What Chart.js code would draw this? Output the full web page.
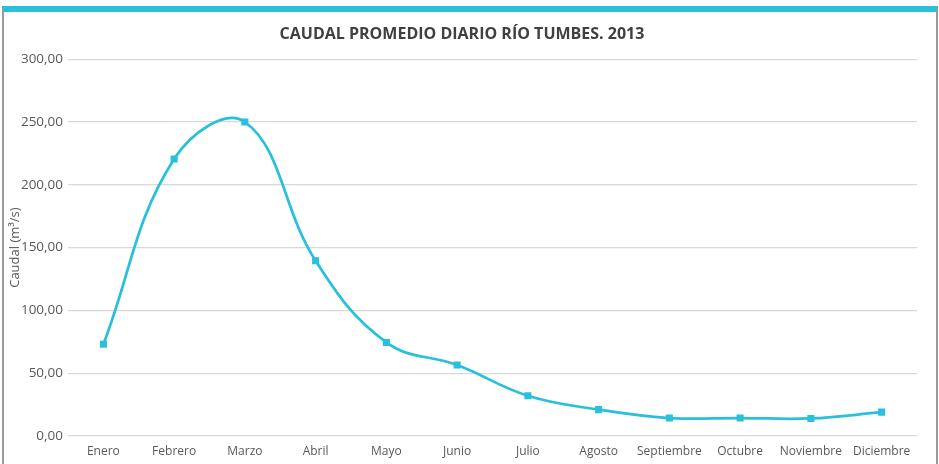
<!DOCTYPE html>
<html>
<head>
<meta charset="utf-8">
<script src="https://cdn.jsdelivr.net/npm/chart.js@4"></script>
<style>
  html, body { margin: 0; padding: 0; background: #fff; overflow: hidden; }
  #frame {
    position: absolute; left: 2px; top: 6px; width: 932px; height: 452px;
    border-top: 6px solid #29C0DC; border-left: 2px solid #9a9a9a; border-right: 2px solid #9a9a9a;
  }
  #wrap { position: absolute; left: 0; top: 0; width: 939px; height: 464px; }
</style>
</head>
<body>
<div id="frame"></div>
<div id="wrap"><canvas id="caudalChart"></canvas></div>
<script>
const months = ['Enero', 'Febrero', 'Marzo', 'Abril', 'Mayo', 'Junio', 'Julio',
    'Agosto', 'Septiembre', 'Octubre', 'Noviembre', 'Diciembre'];
const caudal = [73, 220.5, 250, 139.5, 74.5, 56.5, 32, 21, 14.3, 14.3, 14, 19];
const chartTitle = 'CAUDAL PROMEDIO DIARIO RÍO TUMBES. 2013';
const yTitle = 'Caudal (m³/s)';

const cyan = '#29C0DC';
const textGray = '#595959';

const chartElement = document.getElementById('caudalChart');
const caudalChart = new Chart(chartElement, {
    type: 'line',
    data: {
        labels: months,
        datasets: [{
            label: 'Caudal',
            data: caudal,
            borderColor: cyan,
            backgroundColor: cyan,
            borderWidth: 2.75,
            tension: 0.4,
            pointStyle: 'rect',
            pointRadius: 5,
            pointBorderWidth: 0,
            pointBackgroundColor: cyan
        }]
    },
    options: {
        responsive: true,
        maintainAspectRatio: false,
        animation: false,
        layout: { padding: { top: 12, right: 22, bottom: 5, left: 7 } },
        plugins: {
            legend: { display: false },
            tooltip: { enabled: false },
            title: {
                display: true,
                text: chartTitle,
                color: '#404040',
                font: { family: 'Open Sans', size: 16, weight: 'bold' },
                padding: { top: 13, bottom: 15 }
            }
        },
        scales: {
            x: {
                offset: true,
                afterFit: scale => { scale.height = 23; },
                grid: { display: false, drawTicks: false },
                border: { display: false },
                ticks: {
                    color: textGray,
                    font: { family: 'Open Sans', size: 12 },
                    padding: 8,
                    maxRotation: 0,
                    autoSkip: false
                }
            },
            y: {
                min: 0,
                max: 300,
                afterFit: scale => { scale.width = 61; },
                grid: { color: '#d9d9d9', lineWidth: 1.3, drawTicks: false },
                border: { display: false },
                ticks: {
                    stepSize: 50,
                    color: textGray,
                    padding: 5,
                    font: { family: 'Open Sans', size: 13.5 },
                    callback: v => v.toFixed(2).replace('.', ',')
                },
                title: {
                    display: true,
                    text: yTitle,
                    color: textGray,
                    font: { family: 'Open Sans', size: 13 },
                    padding: 0
                }
            }
        }
    }
});
</script>
</body>
</html>
